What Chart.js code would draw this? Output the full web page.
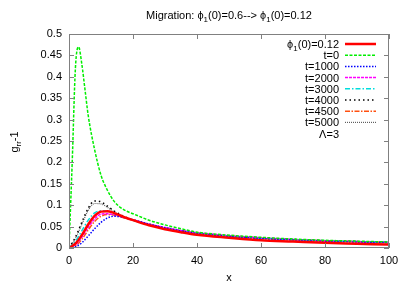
<!DOCTYPE html>
<html lang="en">
<head>
    <meta charset="UTF-8">
    <title>Migration</title>
    <script src="https://cdn.jsdelivr.net/npm/chart.js"></script>
    <style>
        html, body { margin: 0; padding: 0; background: #fff; overflow: hidden; }
        canvas { display: block; }
    </style>
</head>
<body>
    <canvas id="gChart" width="407" height="285"></canvas>

    <script>
        // x positions where values were read
        const xs = [0, 2, 4, 6, 8, 10, 12, 14, 16, 18, 20, 25, 30, 35, 40, 50, 60, 70, 80, 90, 100];
        // t=0 has a sharper peak, read at its own x positions
        const xsT0 = [0, 1, 2, 3, 4, 5, 6, 8, 10, 12, 14, 16, 18, 20, 25, 30, 35, 40, 50, 60, 70, 80, 90, 100];

        const phi012 = [0, 0.01, 0.03, 0.055, 0.075, 0.085, 0.086, 0.082, 0.076, 0.07, 0.065, 0.053, 0.044, 0.037, 0.031, 0.024, 0.018, 0.015, 0.012, 0.010, 0.008];
        const t0 = [0, 0.2, 0.42, 0.47, 0.43, 0.37, 0.31, 0.23, 0.17, 0.135, 0.11, 0.095, 0.086, 0.08, 0.065, 0.054, 0.045, 0.037, 0.030, 0.025, 0.021, 0.018, 0.016, 0.014];
        const t1000 = [0, 0.003, 0.012, 0.028, 0.045, 0.06, 0.07, 0.074, 0.073, 0.07, 0.066, 0.056, 0.047, 0.040, 0.034, 0.027, 0.022, 0.019, 0.016, 0.014, 0.013];
        const t2000 = [0, 0.008, 0.025, 0.048, 0.068, 0.079, 0.08, 0.078, 0.074, 0.07, 0.066, 0.056, 0.048, 0.041, 0.036, 0.029, 0.024, 0.020, 0.017, 0.015, 0.013];
        const t3000 = [0, 0.015, 0.04, 0.065, 0.082, 0.087, 0.085, 0.08, 0.075, 0.07, 0.065, 0.055, 0.047, 0.040, 0.035, 0.028, 0.023, 0.019, 0.017, 0.015, 0.013];
        const t4000 = [0, 0.025, 0.06, 0.093, 0.11, 0.108, 0.098, 0.087, 0.078, 0.071, 0.065, 0.054, 0.046, 0.040, 0.035, 0.028, 0.023, 0.020, 0.017, 0.015, 0.013];
        const t4500 = [0, 0.005, 0.02, 0.042, 0.062, 0.074, 0.078, 0.077, 0.073, 0.069, 0.065, 0.055, 0.047, 0.040, 0.035, 0.028, 0.023, 0.019, 0.017, 0.015, 0.013];
        const t5000 = [0, 0.022, 0.055, 0.088, 0.104, 0.103, 0.095, 0.085, 0.077, 0.07, 0.065, 0.054, 0.046, 0.040, 0.035, 0.028, 0.023, 0.020, 0.017, 0.015, 0.013];

        const yTicks = [0, 0.05, 0.1, 0.15, 0.2, 0.25, 0.3, 0.35, 0.4, 0.45, 0.5];
        const xTicks = [0, 20, 40, 60, 80, 100];

        const FONT = '11px "Liberation Sans", Arial, sans-serif';
        const SUBFONT = '8px "Liberation Sans", Arial, sans-serif';

        function pts(xv, yv) {
            return yv.map((y, i) => ({ x: xv[i], y: y }));
        }

        const series = [
            { label: 'phi', data: pts(xs, phi012), color: '#ff0000', width: 2.5, dash: [] },
            { label: 't=0', data: pts(xsT0, t0), color: '#00ee00', width: 1.5, dash: [3, 1.5] },
            { label: 't=1000', data: pts(xs, t1000), color: '#0000ff', width: 1.5, dash: [1.5, 1.5] },
            { label: 't=2000', data: pts(xs, t2000), color: '#ff00ff', width: 1.5, dash: [3, 1] },
            { label: 't=3000', data: pts(xs, t3000), color: '#00dddd', width: 1.5, dash: [5, 2, 1.5, 2] },
            { label: 't=4000', data: pts(xs, t4000), color: '#000000', width: 1.5, dash: [1.5, 3] },
            { label: 't=4500', data: pts(xs, t4500), color: '#ff5010', width: 1.5, dash: [5, 1.5, 1.5, 1.5] },
            { label: 't=5000', data: pts(xs, t5000), color: '#606060', width: 1.2, dash: [1, 1] }
        ];

        // text with subscripts: parts = [[text, isSub], ...]
        function drawParts(ctx, parts, x, y, align) {
            let total = 0;
            parts.forEach(p => {
                ctx.font = p[1] ? SUBFONT : FONT;
                total += ctx.measureText(p[0]).width;
            });
            let cx = align === 'right' ? x - total : align === 'center' ? x - total / 2 : x;
            ctx.textAlign = 'left';
            ctx.textBaseline = 'alphabetic';
            parts.forEach(p => {
                ctx.font = p[1] ? SUBFONT : FONT;
                ctx.fillText(p[0], cx, p[1] ? y + 3 : y);
                cx += ctx.measureText(p[0]).width;
            });
        }

        const decorPlugin = {
            id: 'decor',
            afterDraw(chart) {
                const ctx = chart.ctx;
                const a = chart.chartArea;
                const xS = chart.scales.x, yS = chart.scales.y;
                ctx.save();

                // frame
                ctx.strokeStyle = '#808080';
                ctx.lineWidth = 1;
                ctx.setLineDash([]);
                ctx.strokeRect(a.left + 0.5, a.top + 0.5, a.right - a.left - 1, a.bottom - a.top - 1);

                // inward ticks on all four sides
                ctx.beginPath();
                yTicks.forEach(v => {
                    const py = Math.round(yS.getPixelForValue(v)) + 0.5;
                    ctx.moveTo(a.left, py); ctx.lineTo(a.left + 5, py);
                    ctx.moveTo(a.right, py); ctx.lineTo(a.right - 5, py);
                });
                xTicks.forEach(v => {
                    const px = Math.round(xS.getPixelForValue(v)) + 0.5;
                    ctx.moveTo(px, a.bottom); ctx.lineTo(px, a.bottom - 5);
                    ctx.moveTo(px, a.top); ctx.lineTo(px, a.top + 5);
                });
                ctx.stroke();

                ctx.fillStyle = '#000';
                // title
                drawParts(ctx, [['Migration: \u03d5', false], ['1', true], ['(0)=0.6--> \u03d5', false], ['1', true], ['(0)=0.12', false]],
                    (a.left + a.right) / 2, 19, 'center');

                // x axis title
                drawParts(ctx, [['x', false]], (a.left + a.right) / 2, 281, 'center');

                // y axis title
                ctx.save();
                ctx.translate(18, 142);
                ctx.rotate(-Math.PI / 2);
                drawParts(ctx, [['g', false], ['rr', true], ['-1', false]], 0, 0, 'center');
                ctx.restore();

                // legend
                const textRight = 339, lx0 = 345, lx1 = 376;
                const rowY = 44, step = 11.2;
                series.forEach((s, i) => {
                    const y = rowY + i * step;
                    ctx.fillStyle = '#000';
                    if (i === 0) {
                        drawParts(ctx, [['\u03d5', false], ['1', true], ['(0)=0.12', false]], textRight, y + 4, 'right');
                    } else {
                        drawParts(ctx, [[s.label, false]], textRight, y + 4, 'right');
                    }
                    ctx.strokeStyle = s.color;
                    ctx.lineWidth = s.width;
                    ctx.setLineDash(s.dash);
                    ctx.beginPath();
                    ctx.moveTo(lx0, y);
                    ctx.lineTo(lx1, y);
                    ctx.stroke();
                });
                ctx.setLineDash([]);
                drawParts(ctx, [['\u039b=3', false]], textRight, rowY + 8 * step + 4, 'right');

                ctx.restore();
            }
        };

        new Chart(document.getElementById('gChart'), {
            type: 'line',
            data: {
                datasets: series.map(s => ({
                    label: s.label,
                    data: s.data,
                    borderColor: s.color,
                    borderWidth: s.width,
                    borderDash: s.dash,
                    pointRadius: 0,
                    cubicInterpolationMode: 'monotone',
                    fill: false
                }))
            },
            options: {
                responsive: false,
                animation: false,
                devicePixelRatio: 1,
                layout: { padding: { top: 34, right: 18, left: 0, bottom: 0 } },
                plugins: {
                    legend: { display: false },
                    tooltip: { enabled: false }
                },
                scales: {
                    x: {
                        type: 'linear',
                        min: 0,
                        max: 100,
                        afterFit(scale) { scale.height = 37; },
                        afterBuildTicks(scale) { scale.ticks = xTicks.map(v => ({ value: v })); },
                        grid: { display: false, drawTicks: false },
                        border: { display: false },
                        ticks: { autoSkip: false, padding: 6, color: '#000', font: { family: '"Liberation Sans", Arial, sans-serif', size: 11 }, maxRotation: 0 }
                    },
                    y: {
                        type: 'linear',
                        min: 0,
                        max: 0.5,
                        afterFit(scale) { scale.width = 69; },
                        afterBuildTicks(scale) { scale.ticks = yTicks.map(v => ({ value: v })); },
                        grid: { display: false, drawTicks: false },
                        border: { display: false },
                        ticks: {
                            autoSkip: false,
                            padding: 7,
                            color: '#000',
                            font: { family: '"Liberation Sans", Arial, sans-serif', size: 11 },
                            callback: v => String(parseFloat(v.toFixed(2)))
                        }
                    }
                }
            },
            plugins: [decorPlugin]
        });
    </script>
</body>
</html>
